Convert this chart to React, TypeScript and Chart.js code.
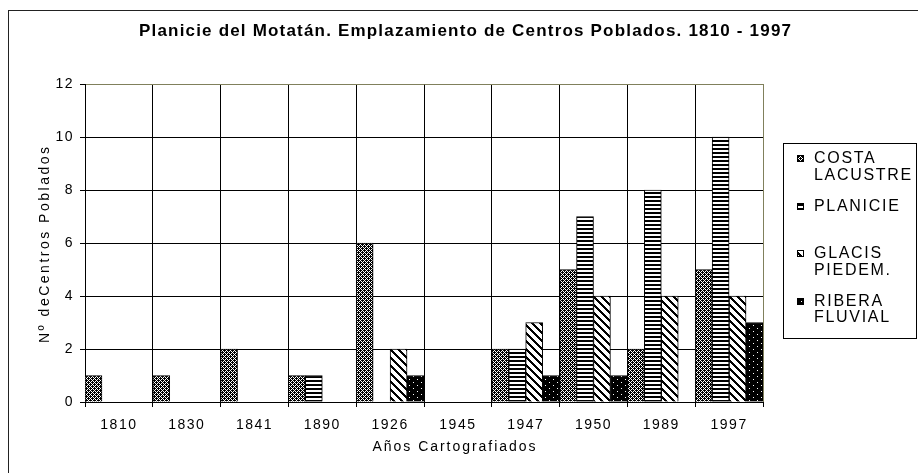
import React, { useEffect, useRef } from "react";
import { Chart, registerables } from "chart.js";

Chart.register(...registerables);

// ---- data ----
const years = ["1810", "1830", "1841", "1890", "1926", "1945", "1947", "1950", "1989", "1997"];
const costaLacustre = [1, 1, 2, 1, 6, 0, 2, 5, 2, 5];
const planicie = [0, 0, 0, 1, 0, 0, 2, 7, 8, 10];
const glacisPiedem = [0, 0, 0, 0, 2, 0, 3, 4, 4, 4];
const riberaFluvial = [0, 0, 0, 0, 1, 0, 1, 1, 0, 3];
const seriesNames = ["COSTA LACUSTRE", "PLANICIE", "GLACIS PIEDEM.", "RIBERA FLUVIAL"];
const legendLines = [["COSTA", "LACUSTRE"], ["PLANICIE"], ["GLACIS", "PIEDEM."], ["RIBERA", "FLUVIAL"]];
const yMin = 0;
const yMax = 12;
const yStep = 2;
const chartTitle = "Planicie del Motatán. Emplazamiento de Centros Poblados. 1810 - 1997";
const xTitle = "Años Cartografiados";
const yTitle = "Nº deCentros Poblados";

const FONT = 'Arial, "Liberation Sans", sans-serif';
const OLIVE = "#80805c";

function makePattern(
  ctx: CanvasRenderingContext2D,
  w: number,
  h: number,
  fn: (x: number, y: number) => boolean,
  fg: string,
  bg: string
): CanvasPattern {
  const c = document.createElement("canvas");
  c.width = w;
  c.height = h;
  const g = c.getContext("2d") as CanvasRenderingContext2D;
  g.fillStyle = bg;
  g.fillRect(0, 0, w, h);
  g.fillStyle = fg;
  for (let y = 0; y < h; y++) {
    for (let x = 0; x < w; x++) {
      if (fn(x, y)) g.fillRect(x, y, 1, 1);
    }
  }
  return ctx.createPattern(c, "repeat") as CanvasPattern;
}

function fitText(
  c: CanvasRenderingContext2D,
  text: string,
  font: string,
  width: number,
  x: number,
  y: number,
  rotate = false
) {
  c.save();
  c.font = font;
  (c as any).letterSpacing = "0px";
  const w = c.measureText(text).width;
  const sp = (width - w) / (text.length - 1);
  (c as any).letterSpacing = `${sp}px`;
  c.fillStyle = "#000";
  c.textAlign = "left";
  c.textBaseline = "middle";
  c.translate(x, y);
  if (rotate) c.rotate(-Math.PI / 2);
  c.fillText(text, -width / 2, 0);
  c.restore();
}

export default function App() {
  const ref = useRef<HTMLCanvasElement | null>(null);

  useEffect(() => {
    document.body.style.margin = "0";
    const canvas = ref.current;
    if (!canvas) return;
    const ctx = canvas.getContext("2d") as CanvasRenderingContext2D;

    const whiteCosta = [
      [0, 0],
      [1, 1],
      [3, 1],
      [2, 2],
      [1, 3],
      [3, 3],
    ];
    const pCosta = makePattern(
      ctx,
      4,
      4,
      (x, y) => !whiteCosta.some(([a, b]) => a === x && b === y),
      "#000",
      "#fff"
    );
    const pPlan = makePattern(ctx, 4, 4, (_x, y) => y < 2, "#000", "#fff");
    const pGlacis = makePattern(ctx, 8, 8, (x, y) => (x - y + 16) % 8 < 3, "#000", "#fff");
    const pRibera = makePattern(ctx, 8, 6, (x, y) => (x === 1 && y === 1) || (x === 5 && y === 4), "#fff", "#000");
    const patterns = [pCosta, pPlan, pGlacis, pRibera];

    const decor = {
      id: "decor",
      beforeDraw(chart: any) {
        const c = chart.ctx as CanvasRenderingContext2D;
        c.save();
        c.fillStyle = "#fff";
        c.fillRect(0, 0, chart.width, chart.height);
        c.strokeStyle = "#222";
        c.lineWidth = 1;
        c.strokeRect(8.5, 10.5, 1000, 1000);
        c.restore();
        (c as any).letterSpacing = "1.5px";
      },
      afterDraw(chart: any) {
        const c = chart.ctx as CanvasRenderingContext2D;
        // titles
        fitText(c, chartTitle, `bold 17px ${FONT}`, 652, 465, 31);
        fitText(c, xTitle, `14px ${FONT}`, 163, 454, 447);
        fitText(c, yTitle, `14px ${FONT}`, 196, 45, 245, true);

        c.save();
        // legend
        c.strokeStyle = "#000";
        c.lineWidth = 1;
        c.strokeRect(783.5, 143.5, 133, 195);
        c.font = `16px ${FONT}`;
        (c as any).letterSpacing = "1.7px";
        c.textAlign = "left";
        c.textBaseline = "middle";
        legendLines.forEach((lines, i) => {
          const yc = 159 + i * 47.5;
          c.fillStyle = patterns[i];
          c.fillRect(797, Math.round(yc) - 4, 7, 7);
          c.strokeStyle = "#000";
          c.strokeRect(797.5, Math.round(yc) - 3.5, 6, 6);
          c.fillStyle = "#000";
          lines.forEach((t, j) => {
            c.fillText(t, 814, yc + j * 16.5);
          });
        });
        c.restore();
      },
    };

    const mk = (label: string, data: number[], i: number) => ({
      label,
      data,
      backgroundColor: patterns[i],
      borderColor: "#000",
      borderWidth: 1,
      categoryPercentage: 1,
      barPercentage: 1,
    });

    const chart = new Chart(canvas, {
      type: "bar",
      data: {
        labels: years,
        datasets: [
          mk(seriesNames[0], costaLacustre, 0),
          mk(seriesNames[1], planicie, 1),
          mk(seriesNames[2], glacisPiedem, 2),
          mk(seriesNames[3], riberaFluvial, 3),
        ],
      },
      options: {
        responsive: false,
        animation: false,
        devicePixelRatio: 1,
        layout: { padding: { top: 84, right: 155, left: 0, bottom: 0 } },
        plugins: {
          legend: { display: false },
          tooltip: { enabled: false },
          title: { display: false },
        },
        scales: {
          x: {
            offset: true,
            grid: {
              offset: true,
              color: (c: any) => (c.tick ? "#000" : OLIVE),
              tickColor: "#000",
              tickLength: 5,
              lineWidth: 1,
            },
            border: { color: "#000" },
            ticks: { color: "#000", font: { size: 14, family: FONT }, padding: 10, maxRotation: 0, autoSkip: false },
            title: { display: false, text: xTitle },
            afterFit: (s: any) => {
              s.height = 71;
            },
          },
          y: {
            min: yMin,
            max: yMax,
            ticks: { stepSize: yStep, color: "#000", font: { size: 14, family: FONT }, padding: 6 },
            grid: {
              color: (c: any) => (c.tick && c.tick.value === yMax ? OLIVE : "#000"),
              tickColor: "#000",
              tickLength: 5,
              lineWidth: 1,
            },
            border: { color: "#000" },
            title: { display: false, text: yTitle },
            afterFit: (s: any) => {
              s.width = 85;
            },
          },
        },
      },
      plugins: [decor],
    } as any);

    return () => chart.destroy();
  }, []);

  return (
    <div style={{ position: "absolute", left: 0, top: 0, width: 918, height: 473 }}>
      <canvas ref={ref} width={918} height={473} style={{ width: 918, height: 473, display: "block" }} />
    </div>
  );
}
